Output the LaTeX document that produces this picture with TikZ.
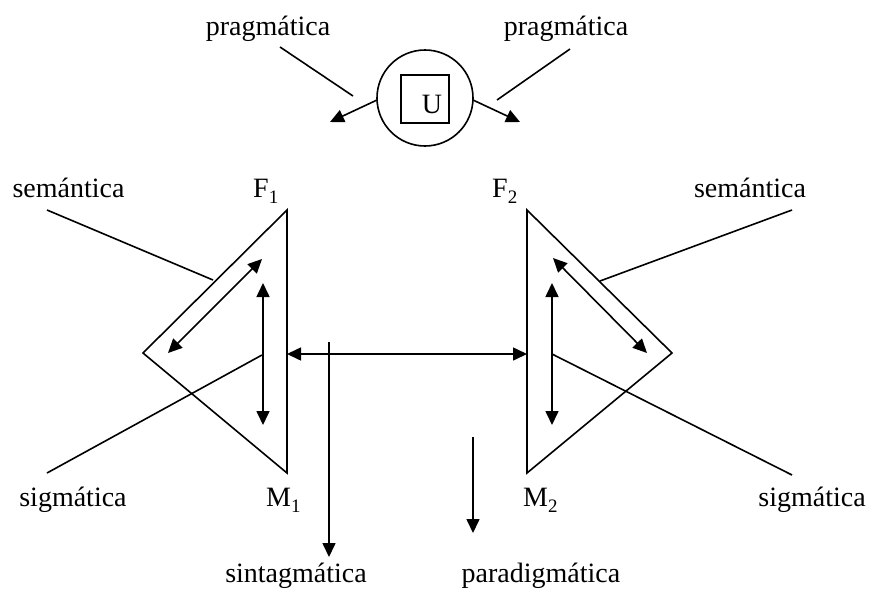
\documentclass[tikz,border=0pt]{standalone}
\usepackage{fontspec}
\setmainfont{Liberation Serif}
\usetikzlibrary{arrows.meta}
\newcommand{\mysub}[1]{\raisebox{-0.22em}{\fontsize{19}{20}\selectfont #1}}
\begin{document}
\begin{tikzpicture}[x=1pt,y=-1pt,
  ln/.style={line width=1.6pt,line join=miter},
  tip/.tip={Triangle[length=14pt,width=13pt]},
  arr/.style={ln,-tip},
  darr/.style={ln,tip-tip},
  lbl/.style={anchor=base,inner sep=0pt,font=\fontsize{28}{32}\selectfont}]
\useasboundingbox (0,0) rectangle (870,595);

% labels
\node[lbl] (pragL) at (268,35) {pragmática};
\node[lbl] (pragR) at (566,35) {pragmática};
\node[lbl] (semL) at (68.5,197) {semántica};
\node[lbl] (semR) at (750,197) {semántica};
\node[lbl,anchor=base west] (F1) at (253,197) {F\mysub{1}};
\node[lbl,anchor=base west] (F2) at (492,197) {F\mysub{2}};
\node[lbl,anchor=base west] (M1) at (266,506) {M\mysub{1}};
\node[lbl,anchor=base west] (M2) at (523,506) {M\mysub{2}};
\node[lbl] (sigL) at (73,506) {sigmática};
\node[lbl] (sigR) at (812,506) {sigmática};
\node[lbl] (sint) at (296,582) {sintagmática};
\node[lbl] (para) at (541,582) {paradigmática};

% circle with U
\node[draw,circle,line width=1.6pt,minimum size=96pt,inner sep=0pt] (circ) at (425,98) {};
\node[draw,line width=1.6pt,minimum size=48pt,inner sep=0pt] (sq) at (425,99) {};
\node[lbl] (U) at (432,113) {U};

% arrows from circle
\coordinate (cL) at (377,100);
\coordinate (cLt) at (330,122);
\coordinate (cR) at (473,100);
\coordinate (cRt) at (520,122);
\draw[arr] (cL) -- (cLt);
\draw[arr] (cR) -- (cRt);

% pragmatic lines
\coordinate (pL1) at (280,47);
\coordinate (pL2) at (353,96);
\coordinate (pR1) at (570,49);
\coordinate (pR2) at (497,100);
\draw[ln] (pL1) -- (pL2);
\draw[ln] (pR1) -- (pR2);

% triangles
\coordinate (LT) at (287,210);
\coordinate (LL) at (143,353);
\coordinate (LB) at (287,473);
\coordinate (RT) at (527,210);
\coordinate (RR) at (672,353);
\coordinate (RB) at (527,473);
\draw[ln] (LT) -- (LL) -- (LB) -- cycle;
\draw[ln] (RT) -- (RR) -- (RB) -- cycle;

% inner arrows left
\coordinate (ld1) at (168,353);
\coordinate (ld2) at (262,259);
\coordinate (lv1) at (263,283);
\coordinate (lv2) at (263,425);
\draw[darr] (ld1) -- (ld2);
\draw[darr] (lv1) -- (lv2);

% inner arrows right
\coordinate (rd1) at (553,258);
\coordinate (rd2) at (647,353);
\coordinate (rv1) at (552,283);
\coordinate (rv2) at (552,425);
\draw[darr] (rd1) -- (rd2);
\draw[darr] (rv1) -- (rv2);

% horizontal double arrow
\coordinate (h1) at (287,354);
\coordinate (h2) at (527,354);
\draw[darr] (h1) -- (h2);

% label lines
\coordinate (sL1) at (47,210);
\coordinate (sL2) at (213,280);
\coordinate (gL1) at (262,355);
\coordinate (gL2) at (47,473);
\coordinate (sR1) at (600,281);
\coordinate (sR2) at (792,210);
\coordinate (gR1) at (552,354);
\coordinate (gR2) at (792,475);
\draw[ln] (sL1) -- (sL2);
\draw[ln] (gL1) -- (gL2);
\draw[ln] (sR1) -- (sR2);
\draw[ln] (gR1) -- (gR2);

% downward arrows
\coordinate (st1) at (329,342);
\coordinate (st2) at (329,557);
\coordinate (pa1) at (473,437);
\coordinate (pa2) at (473,533);
\draw[arr] (st1) -- (st2);
\draw[arr] (pa1) -- (pa2);
\end{tikzpicture}
\end{document}
